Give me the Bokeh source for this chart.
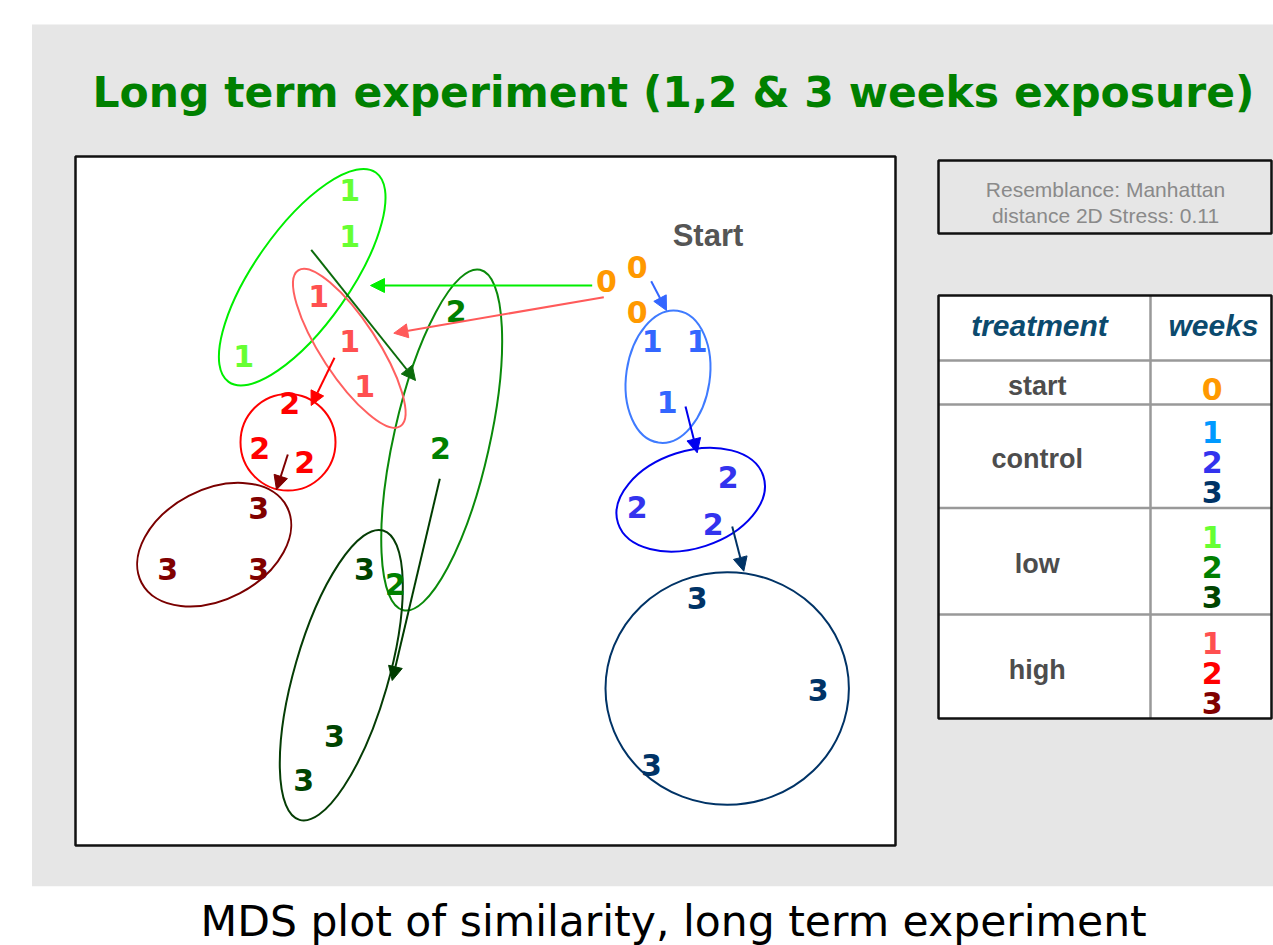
from bokeh.plotting import figure
from bokeh.models import Range1d, Arrow, NormalHead, ColumnDataSource
from bokeh.core.properties import value
from bokeh.embed import file_html
from bokeh.resources import INLINE

# ---------------- data (MDS ordination, plot units) ----------------
treatments = ["start", "control", "low", "high"]
weeks_by_treatment = {"start": ["0"], "control": ["1", "2", "3"],
                      "low": ["1", "2", "3"], "high": ["1", "2", "3"]}

# sample labels: treatment, week, x, y (label centre)
pt_treatment = ["start"] * 3 + ["control"] * 9 + ["low"] * 9 + ["high"] * 9
pt_week = ["0", "0", "0",
           "1", "1", "1", "2", "2", "2", "3", "3", "3",
           "1", "1", "1", "2", "2", "2", "3", "3", "3",
           "1", "1", "1", "2", "2", "2", "3", "3", "3"]
pt_x = [606.0, 636.7, 636.7,
        651.7, 696.7, 666.7, 727.7, 636.7, 712.7, 696.7, 817.7, 651.0,
        349.3, 349.3, 243.3, 455.7, 440.0, 395.0, 364.0, 334.0, 303.3,
        318.3, 349.3, 364.3, 289.3, 259.3, 304.3, 258.3, 167.3, 258.3]
pt_y = [280.7, 266.0, 311.7,
        340.7, 340.7, 401.3, 476.3, 506.7, 523.0, 597.3, 689.0, 764.0,
        189.0, 235.0, 355.0, 310.7, 447.3, 583.0, 568.3, 735.0, 779.7,
        295.7, 340.7, 385.7, 402.0, 447.3, 461.7, 507.3, 568.3, 568.3]

# group ellipses: treatment, week, centre, full axes, angle (deg)
el_treatment = ["control", "control", "control", "low", "low", "low", "high", "high", "high"]
el_week = ["1", "2", "3", "1", "2", "3", "1", "2", "3"]
el_x = [667.5, 690.2, 726.7, 301.7, 441.2, 340.8, 348.8, 287.5, 213.7]
el_y = [376.2, 499.2, 688.0, 276.7, 439.5, 674.7, 347.8, 441.7, 544.2]
el_w = [133.2, 152.8, 243.4, 256.0, 349.0, 301.2, 186.4, 95.0, 164.0]
el_h = [83.6, 97.0, 232.6, 95.4, 95.8, 94.0, 56.2, 96.6, 110.0]
el_angle = [81.7, 18.0, 0.0, 54.9, 77.3, 73.9, -56.8, 0.0, 27.6]

# trajectory arrows
ar_x0 = [591.7, 603.3, 650.7, 685.0, 731.7, 310.7, 439.3, 334.0, 287.3]
ar_y0 = [285.0, 296.7, 280.7, 406.0, 526.0, 249.3, 478.3, 357.3, 454.0]
ar_x1 = [370.0, 393.3, 666.0, 696.7, 743.3, 415.0, 391.7, 310.7, 276.0]
ar_y1 = [285.0, 332.7, 310.0, 452.3, 570.7, 380.0, 680.0, 405.0, 489.3]
ar_color = ["#00ee00", "#ff5a5a", "#3366ff", "#0000ee", "#003366",
            "#0b6b0b", "#003d00", "#ff0000", "#800000"]

# colours
text_colors = {("start", "0"): "#ff9900",
               ("control", "1"): "#3366ff", ("control", "2"): "#3333ee", ("control", "3"): "#003366",
               ("low", "1"): "#66ff33", ("low", "2"): "#008000", ("low", "3"): "#004400",
               ("high", "1"): "#ff5050", ("high", "2"): "#ff0000", ("high", "3"): "#800000"}
legend_colors = dict(text_colors)
legend_colors[("control", "1")] = "#0099ff"
ellipse_colors = {("control", "1"): "#3f7bff", ("control", "2"): "#0000ee", ("control", "3"): "#003366",
                  ("low", "1"): "#00ee00", ("low", "2"): "#0a8a0a", ("low", "3"): "#053d05",
                  ("high", "1"): "#ff6060", ("high", "2"): "#ff0000", ("high", "3"): "#7a0000"}

TITLE = "Long term experiment (1,2 & 3 weeks exposure)"
CAPTION = "MDS plot of similarity, long term experiment"
NOTE = ["Resemblance: Manhattan", "distance 2D Stress: 0.11"]

# ---------------- figure ----------------
W, H = 1273, 945
p = figure(width=W, height=H, x_range=Range1d(0, W), y_range=Range1d(H, 0),
           output_backend="svg", toolbar_location=None, tools="",
           min_border=0, x_axis_location=None, y_axis_location=None,
           background_fill_color="white", border_fill_color="white")
p.grid.visible = False
p.outline_line_color = None

GRAY = "#e6e6e6"
MID = dict(text_align="center", text_baseline="middle")
# slide background
p.quad(left=[31.5], right=[1290], top=[24], bottom=[885.7], fill_color=GRAY, line_color=None)
# MDS plot frame
p.quad(left=[75], right=[895], top=[156], bottom=[845], fill_color="white",
       line_color="#111111", line_width=2.5)

# ellipses
p.ellipse(x=el_x, y=el_y, width=el_w, height=el_h, angle=el_angle, angle_units="deg",
          fill_color=None, line_width=2,
          line_color=[ellipse_colors[(t, w)] for t, w in zip(el_treatment, el_week)])

# arrows
for x0, y0, x1, y1, c in zip(ar_x0, ar_y0, ar_x1, ar_y1, ar_color):
    p.add_layout(Arrow(end=NormalHead(size=14, fill_color=c, line_color=c, line_width=1),
                       x_start=x0, y_start=y0, x_end=x1, y_end=y1,
                       line_color=c, line_width=2))

# sample labels
src = ColumnDataSource(dict(x=pt_x, y=pt_y, text=pt_week,
                            color=[text_colors[(t, w)] for t, w in zip(pt_treatment, pt_week)]))
p.text(x="x", y="y", text="text", source=src, text_color="color",
       text_font=value("DejaVu Sans"), text_font_style="bold",
       text_font_size=value("30px"), **MID)

p.text(x=[707.5], y=[235], text=["Start"], text_color="#555555",
       text_font=value("Liberation Sans"), text_font_style="bold",
       text_font_size=value("31px"), **MID)

# title and caption
p.text(x=[92], y=[91.5], text=[TITLE], text_color="#008000",
       text_font=value("DejaVu Sans"), text_font_style="bold",
       text_font_size=value("42.5px"), text_align="left", text_baseline="middle")
p.text(x=[200], y=[921], text=[CAPTION], text_color="#000000",
       text_font=value("DejaVu Sans"), text_font_size=value("42.5px"),
       text_align="left", text_baseline="middle")

# note box
p.quad(left=[938], right=[1271], top=[160], bottom=[233], fill_color=GRAY,
       line_color="#111111", line_width=2.5)
p.text(x=[1105, 1105], y=[188.5, 214.5], text=NOTE, text_color="#8a8a8a",
       text_font=value("Liberation Sans"), text_font_size=value("21px"), **MID)

# legend table
tx0, txm, tx1 = 938, 1150, 1271
row_edges = [295, 360, 404, 507.5, 614, 718]
p.quad(left=[tx0], right=[tx1], top=[row_edges[0]], bottom=[row_edges[-1]],
       fill_color="white", line_color=None)
p.segment(x0=[tx0] * 4 + [txm], y0=row_edges[1:5] + [row_edges[0]],
          x1=[tx1] * 4 + [txm], y1=row_edges[1:5] + [row_edges[-1]],
          line_color="#999999", line_width=2.5)
p.quad(left=[tx0], right=[tx1], top=[row_edges[0]], bottom=[row_edges[-1]],
       fill_color=None, line_color="#111111", line_width=2.5)

p.text(x=[1039, 1213], y=[325, 325], text=["treatment", "weeks"], text_color="#0b4a6e",
       text_font=value("Liberation Sans"), text_font_style="bold italic",
       text_font_size=value("30px"), **MID)

lab_x, lab_y, num_x, num_y, num_t, num_c = [], [], [], [], [], []
for i, t in enumerate(treatments):
    mid = (row_edges[i + 1] + row_edges[i + 2]) / 2
    lab_x.append(1036.7)
    lab_y.append(mid + 3)
    wk = weeks_by_treatment[t]
    for j, w in enumerate(wk):
        num_x.append(1211.7)
        num_y.append(mid + 6 + (j - (len(wk) - 1) / 2) * 30)
        num_t.append(w)
        num_c.append(legend_colors[(t, w)])

p.text(x=lab_x, y=lab_y, text=treatments, text_color="#4d4d4d",
       text_font=value("Liberation Sans"), text_font_style="bold",
       text_font_size=value("27px"), **MID)
p.text(x=num_x, y=num_y, text=num_t, text_color=num_c,
       text_font=value("DejaVu Sans"), text_font_style="bold",
       text_font_size=value("30px"), **MID)

open("out.html", "w").write(file_html(p, INLINE))
